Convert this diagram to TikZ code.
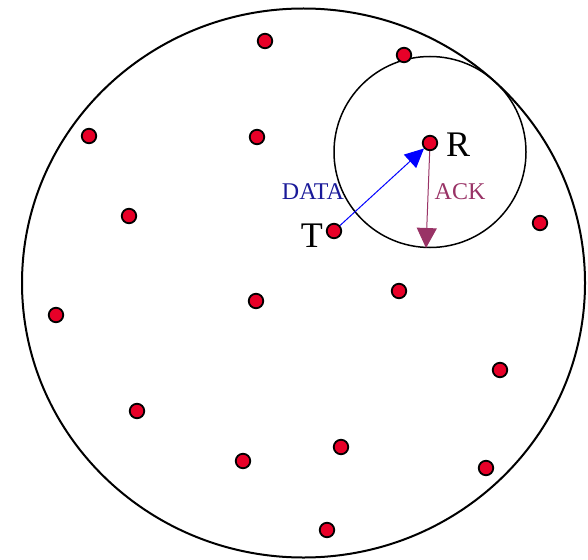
\documentclass[tikz,border=0pt]{standalone}
\usepackage{fontspec}
\setmainfont{Liberation Serif}
\usetikzlibrary{arrows.meta}

\definecolor{dotred}{RGB}{232,0,40}
\definecolor{datablue}{RGB}{26,26,153}
\definecolor{ackpurple}{RGB}{153,51,102}

\begin{document}
\begin{tikzpicture}[x=1pt,y=-1pt,
    dot/.style={circle, draw=black, line width=1.8pt, fill=dotred, minimum size=14.5pt, inner sep=0pt},
    big/.style={font=\fontsize{36}{36}\selectfont, inner sep=0pt},
    small/.style={font=\fontsize{24}{24}\selectfont, inner sep=0pt}]
            \useasboundingbox (0,0) rectangle (588,559);

            % range circles
            \draw[line width=2pt] (303.5,283) ellipse (281.5 and 274.5);
            \draw[line width=1.5pt] (430,152) ellipse (96 and 95.5);

            % nodes of the network
            \node[dot] (a) at (265,41) {};
            \node[dot] (b) at (404,55) {};
            \node[dot] (c) at (89,136) {};
            \node[dot] (d) at (257,137) {};
            \node[dot] (e) at (129,216) {};
            \node[dot] (f) at (540,223) {};
            \node[dot] (g) at (256,301) {};
            \node[dot] (h) at (399,291) {};
            \node[dot] (i) at (56,315) {};
            \node[dot] (j) at (500,370) {};
            \node[dot] (k) at (137,411) {};
            \node[dot] (l) at (243,461) {};
            \node[dot] (m) at (341,447) {};
            \node[dot] (n) at (486,468) {};
            \node[dot] (o) at (327,530) {};

            \node[dot] (R) at (430,143) {};
            \node[dot] (T) at (334,231) {};
            \coordinate (ackend) at (426,248);

            \node[big, anchor=west] at (446,145) {R};
            \node[big, anchor=east] at (323,236) {T};

            \draw[blue, line width=1pt, -{Triangle[length=19pt,width=18pt]}] (T) -- (R);
            \draw[ackpurple, line width=1pt, -{Triangle[length=20pt,width=20pt]}] (R) -- (ackend);

            \node[small, text=datablue] at (313,192) {DATA};
            \node[small, text=ackpurple] at (460,192) {ACK};
        \end{tikzpicture}
\end{document}
